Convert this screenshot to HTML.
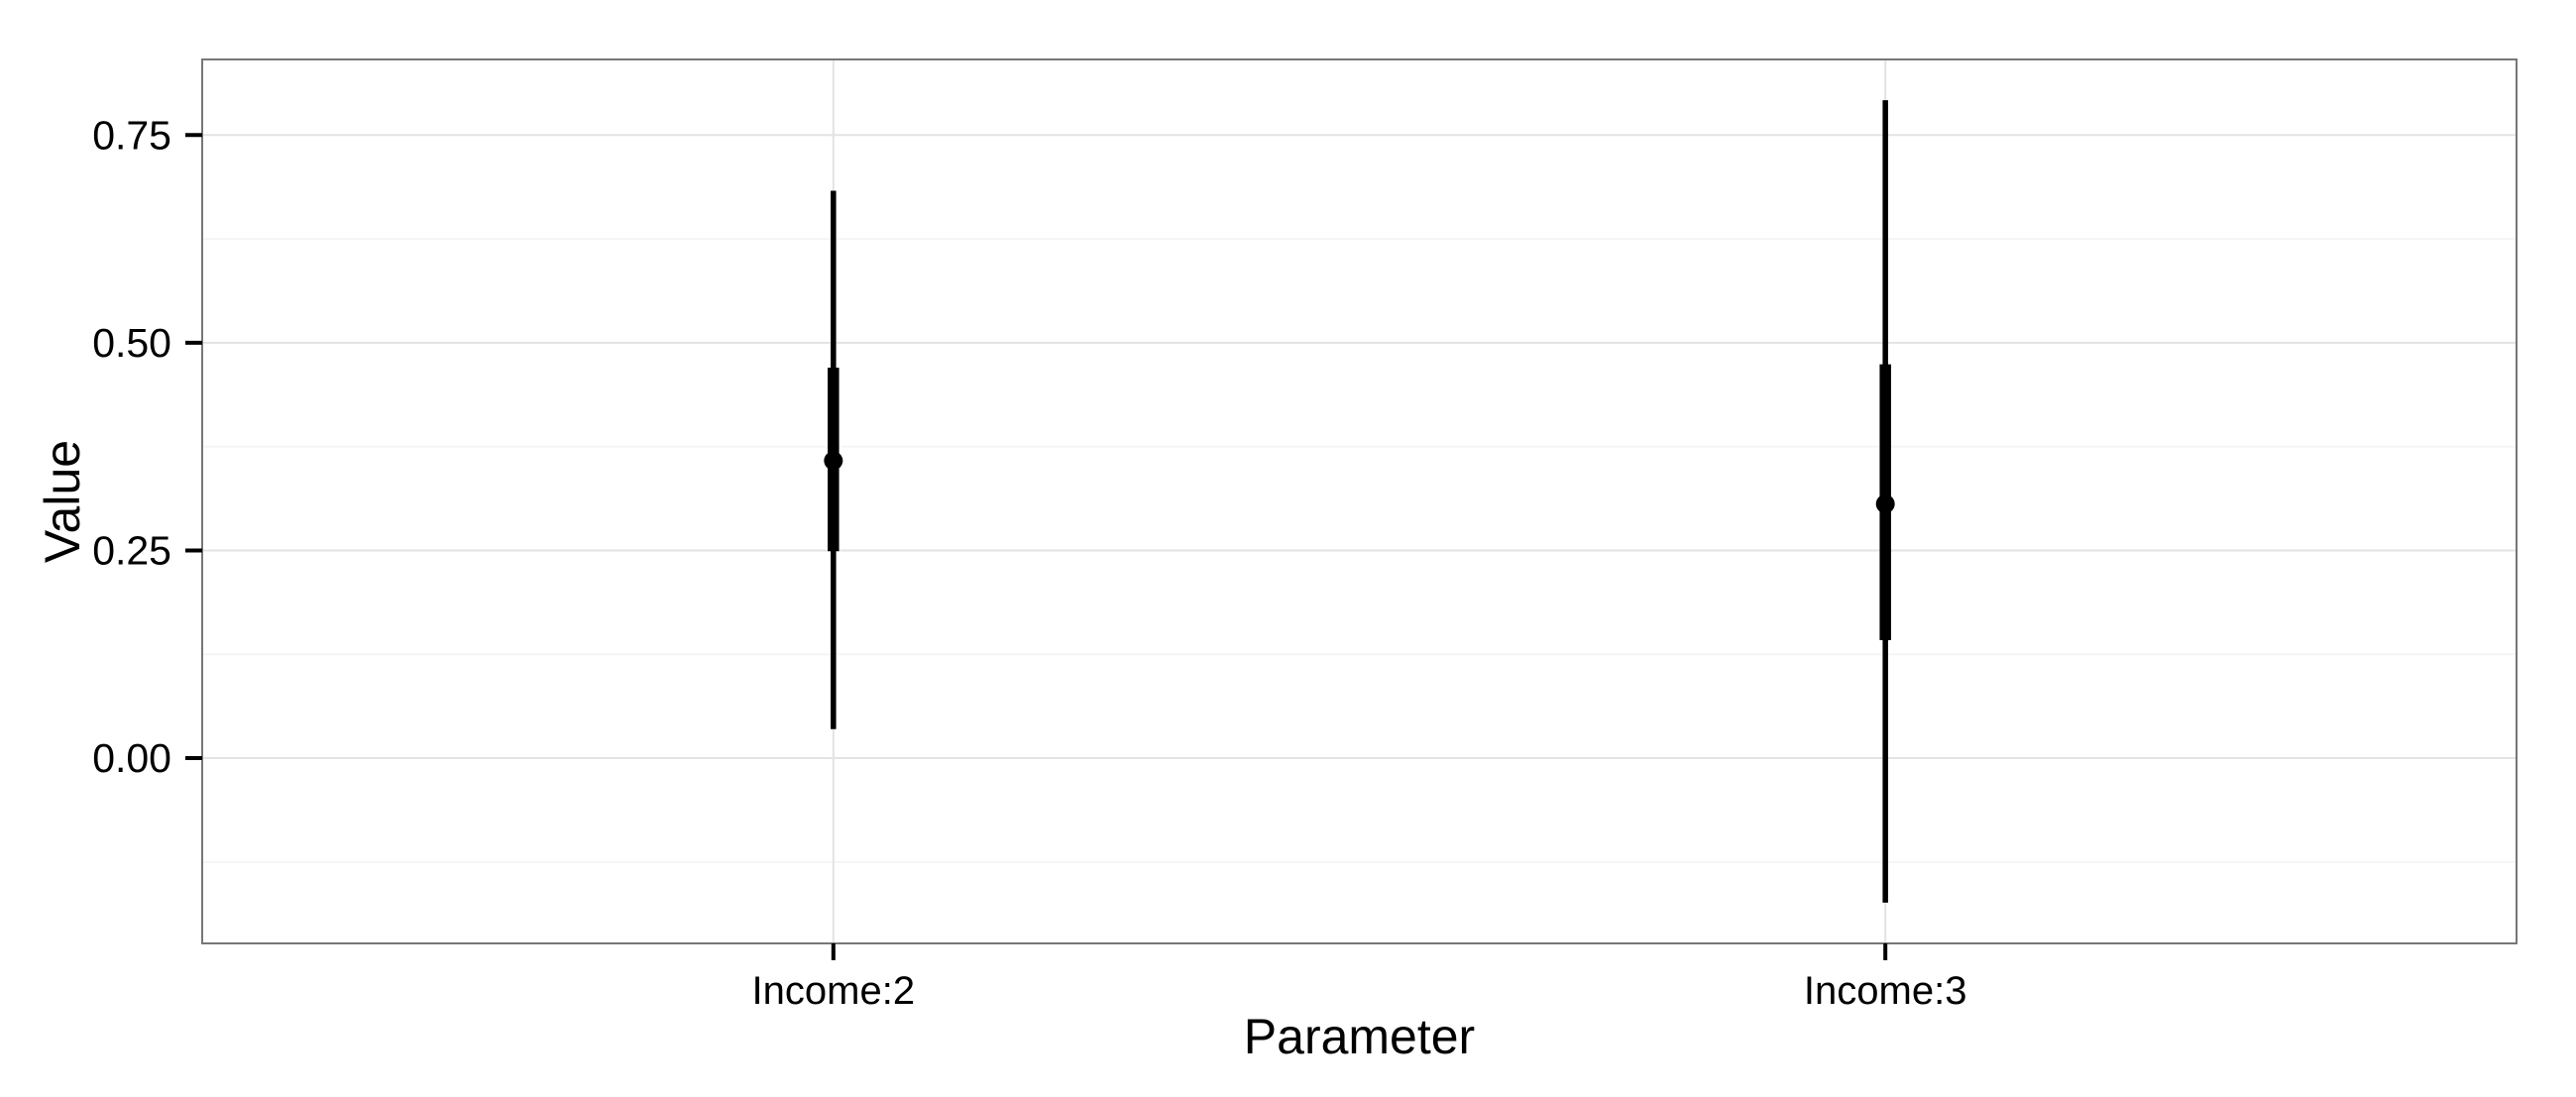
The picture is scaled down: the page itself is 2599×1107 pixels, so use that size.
<!DOCTYPE html>
<html><head><meta charset="utf-8"><style>html,body{margin:0;padding:0;background:#fff}svg{display:block;font-family:"Liberation Sans",Arial,sans-serif}</style></head>
<body>
<svg id="chart" width="2599" height="1107" viewBox="0 0 2599 1107" xmlns="http://www.w3.org/2000/svg"></svg>
<script>
const categories = ["Income:2", "Income:3"];
const medians = [0.358, 0.306];
const innerLow = [0.249, 0.142];
const innerHigh = [0.470, 0.474];
const outerLow = [0.035, -0.174];
const outerHigh = [0.683, 0.792];
const yTicks = [0, 0.25, 0.5, 0.75];
const yTickLabels = ["0.00", "0.25", "0.50", "0.75"];

const svg = document.getElementById('chart');
const NS = 'http://www.w3.org/2000/svg';
const L = 204, R = 2539, T = 60, B = 952;
const yMin = -0.223, yMax = 0.841;
function y(v){ return B - (v - yMin) / (yMax - yMin) * (B - T); }
function x(i){ const lo = 0.4, hi = categories.length + 0.6; return L + ((i + 1) - lo) / (hi - lo) * (R - L); }
function mk(tag, attrs, parent){ const e = document.createElementNS(NS, tag); for (const k in attrs) e.setAttribute(k, attrs[k]); (parent || svg).appendChild(e); return e; }

const grid = mk('g', {});


for (let i = 0; i < yTicks.length + 1; i++) {
  const v = yTicks[0] - 0.125 + i * 0.25;
  if (v < yMin || v > yMax) continue;
  const g = mk('line', {x1: L, x2: R, y1: y(v), y2: y(v), stroke: '#f5f5f5', 'stroke-width': 2}, grid);
  
  
}
yTicks.forEach(v => {
  const g = mk('line', {x1: L, x2: R, y1: y(v), y2: y(v), stroke: '#e3e3e3', 'stroke-width': 2}, grid);
  
  
});
categories.forEach((c, i) => {
  const g = mk('line', {x1: x(i), x2: x(i), y1: T, y2: B, stroke: '#e3e3e3', 'stroke-width': 2}, grid);
  
  
});

const panel = mk('rect', {x: L, y: T, width: R - L, height: B - T, fill: 'none', stroke: '#777', 'stroke-width': 2});



yTicks.forEach((v, i) => {
  const t = mk('line', {x1: 187, x2: L, y1: y(v), y2: y(v), stroke: '#000', 'stroke-width': 4});
  
  
  const lb = mk('text', {x: 173, y: y(v) + 14, 'text-anchor': 'end', 'font-size': 41, fill: '#000'});
  lb.textContent = yTickLabels[i];
  
  
});
categories.forEach((c, i) => {
  const t = mk('line', {x1: x(i), x2: x(i), y1: B, y2: B + 17, stroke: '#000', 'stroke-width': 4});
  
  
  const lb = mk('text', {x: x(i), y: 1013, 'text-anchor': 'middle', 'font-size': 40, fill: '#000'});
  lb.textContent = c;
  
  
});

categories.forEach((c, i) => {
  const g = mk('g', {});
  
  
  const o = mk('line', {x1: x(i), x2: x(i), y1: y(outerLow[i]), y2: y(outerHigh[i]), stroke: '#000', 'stroke-width': 5.5}, g);
  
  
  const n = mk('line', {x1: x(i), x2: x(i), y1: y(innerLow[i]), y2: y(innerHigh[i]), stroke: '#000', 'stroke-width': 11.5}, g);
  
  
  const p = mk('circle', {cx: x(i), cy: y(medians[i]), r: 9.5, fill: '#000'}, g);
  
  
});

const yt = mk('text', {x: 0, y: 0, 'text-anchor': 'middle', 'font-size': 50, fill: '#000', transform: 'translate(80,' + ((T + B) / 2) + ') rotate(-90)'});
yt.textContent = 'Value';


const xt = mk('text', {x: (L + R) / 2, y: 1063, 'text-anchor': 'middle', 'font-size': 50, fill: '#000'});
xt.textContent = 'Parameter';


</script>
</body></html>
